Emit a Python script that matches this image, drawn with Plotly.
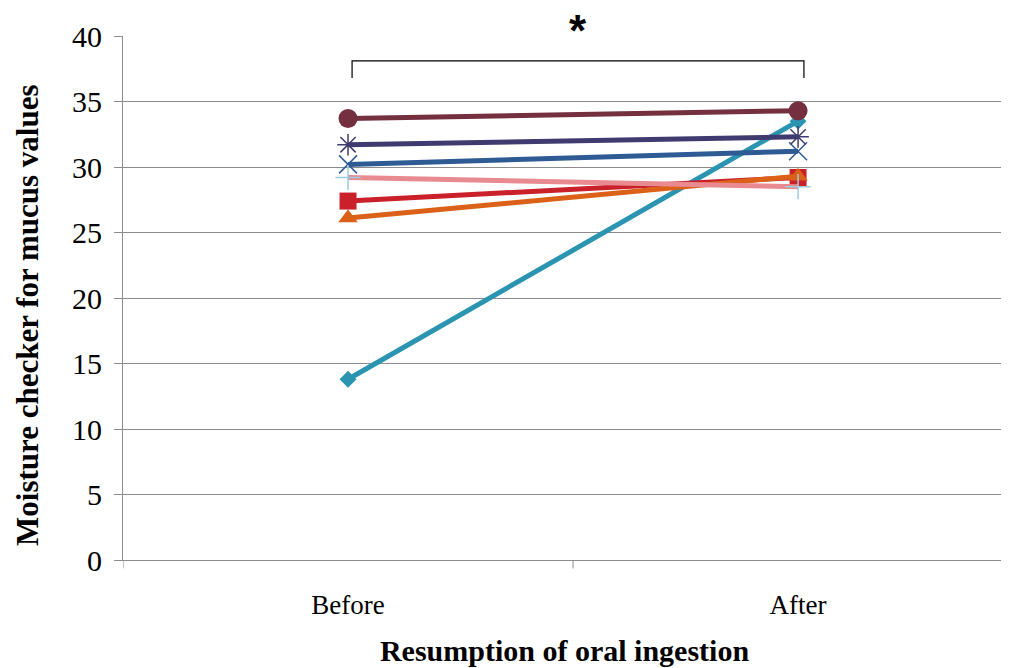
import plotly.graph_objects as go

categories = ["Before", "After"]
teal_vals = [13.8, 33.5]
red_vals = [27.4, 29.2]
orange_vals = [26.1, 29.3]
blue_vals = [30.2, 31.2]
navy_vals = [31.7, 32.3]
maroon_vals = [33.7, 34.3]
pink_vals = [29.2, 28.5]
y_ticks = [0, 5, 10, 15, 20, 25, 30, 35, 40]

series = [
    (teal_vals, "#2B95B1", "diamond", "#2B95B1", 13, 0),
    (red_vals, "#C9202A", "square", "#C9202A", 17, 0),
    (orange_vals, "#DB6119", "triangle-up", "#DB6119", 17, 0),
    (blue_vals, "#2F5B94", "x-thin-open", "#2F5B94", 18, 1.5),
    (navy_vals, "#3F3B70", "asterisk-open", "#3F3B70", 18, 1.5),
    (maroon_vals, "#74303F", "circle", "#74303F", 19, 0),
    (pink_vals, "#E88A8F", "cross-thin-open", "#9DCBE0", 18, 1.5),
]

SERIF = "Liberation Serif, Times New Roman, serif"

fig = go.Figure()
for vals, lc, sym, mc, ms, mlw in series:
    fig.add_trace(go.Scatter(
        x=[0, 1], y=vals, mode="lines+markers",
        line=dict(color=lc, width=5),
        marker=dict(symbol=sym, color=mc, size=ms, line=dict(color=mc, width=mlw)),
        showlegend=False, cliponaxis=False,
    ))

# significance bracket
fig.add_shape(type="path", xref="x", yref="y",
              path="M 0.009,36.8 L 0.009,38.1 L 1.013,38.1 L 1.013,36.8",
              line=dict(color="black", width=1.2))
fig.add_annotation(x=0.51, y=1.01, xref="x", yref="paper", yanchor="middle",
                   text="<b>*</b>", showarrow=False,
                   font=dict(family="Liberation Sans", size=44, color="black"))

# y-axis title (placed like the reference, slightly below plot centre)
fig.add_annotation(x=-0.1076, y=0.4676, xref="paper", yref="paper",
                   xanchor="center", yanchor="middle", textangle=-90,
                   text="<b>Moisture checker for mucus values</b>", showarrow=False,
                   font=dict(family=SERIF, size=31, color="black"))

fig.update_layout(
    width=1009, height=668,
    margin=dict(l=115, r=11, t=28, b=116),
    plot_bgcolor="white", paper_bgcolor="white",
    font=dict(family=SERIF, color="black"),
)
fig.update_xaxes(
    range=[-0.5, 1.462], automargin=False,
    tickmode="array", tickvals=[0, 1], ticktext=categories,
    showgrid=False, showline=True, linecolor="#8C8C8C", linewidth=1,
    ticks="", tickfont=dict(size=27, family=SERIF),
    ticklabelstandoff=21,
    title=dict(text="<b>Resumption of oral ingestion</b>", font=dict(size=30, family=SERIF), standoff=20),
    zeroline=False,
)
# boundary ticks on x axis
for xv in [-0.5, 0.5]:
    fig.add_shape(type="line", xref="x", yref="paper", x0=xv, x1=xv, y0=0, y1=-0.016,
                  line=dict(color="#8C8C8C", width=1))
fig.update_yaxes(
    range=[0, 40], tickvals=y_ticks, automargin=False,
    showgrid=True, gridcolor="#8C8C8C", gridwidth=1,
    showline=True, linecolor="#8C8C8C", linewidth=1,
    ticks="outside", ticklen=8, tickcolor="#8C8C8C",
    tickfont=dict(size=30, family=SERIF),
    ticklabelstandoff=6,
    zeroline=False,
)

fig.write_html("out.html")
